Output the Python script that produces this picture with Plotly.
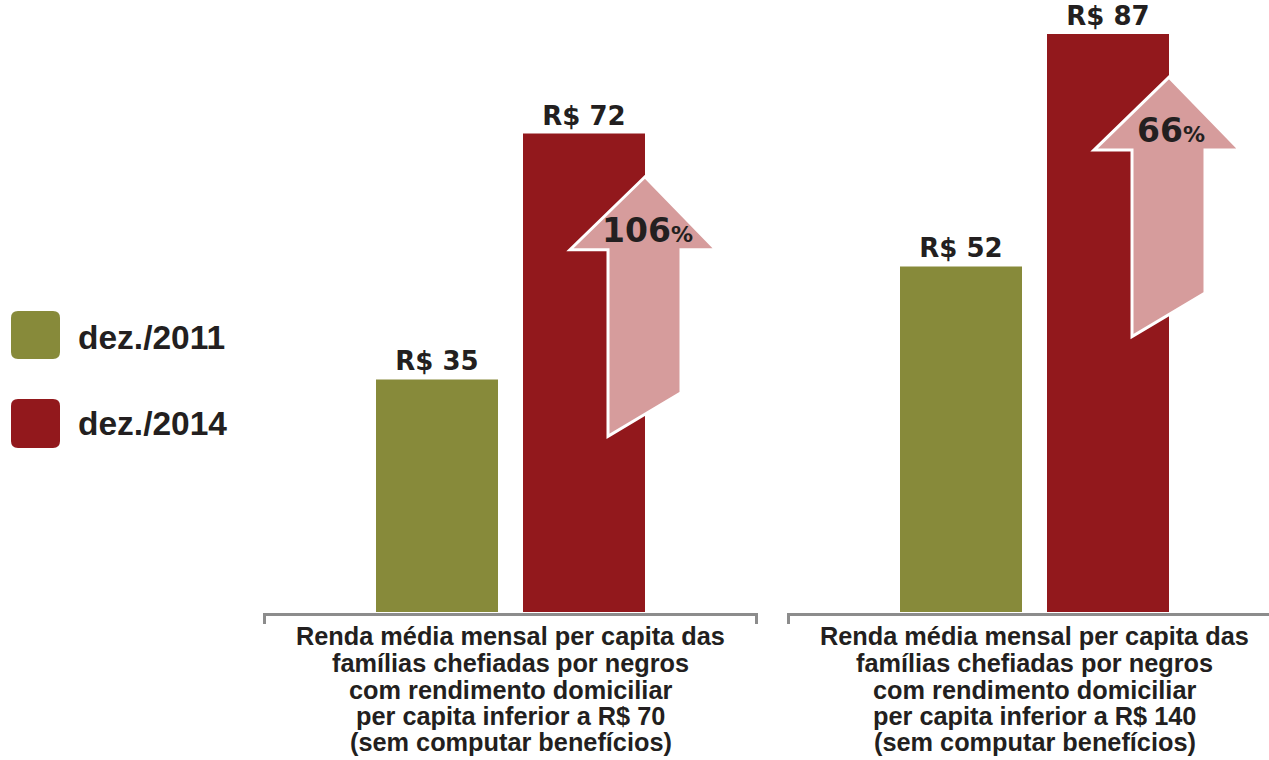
import plotly.graph_objects as go

# ---------------- data ----------------
groups = [
    ["Renda média mensal per capita das", "famílias chefiadas por negros",
     "com rendimento domiciliar", "per capita inferior a R$ 70", "(sem computar benefícios)"],
    ["Renda média mensal per capita das", "famílias chefiadas por negros",
     "com rendimento domiciliar", "per capita inferior a R$ 140", "(sem computar benefícios)"],
]
series_names = ["dez./2011", "dez./2014"]
values_2011 = [35, 52]
values_2014 = [72, 87]
growth_pct = ["106", "66"]

# ---------------- styling / geometry ----------------
W, H = 1269, 760
GREEN = "#878A3A"
RED = "#92181C"
PINK = "#D69C9C"
TXT = "#231F20"
GREY = "#8C8C8C"

BASE_PX = 612.0          # pixel row of value 0
K = 6.645                # pixels per unit (y)
CX0 = 510.5              # pixel of group 0 centre
SX = 524.0               # pixels per x unit (group spacing)

x_range = [-CX0 / SX, (W - CX0) / SX]
y_range = [-(H - BASE_PX) / K, BASE_PX / K]

bar_w = 122 / SX
off_green = -134.5 / SX
off_red = 12.5 / SX

xs = list(range(len(groups)))


def py2paper(py):
    return 1 - py / H


def px2paper(px):
    return px / W


fig = go.Figure()
fig.add_trace(go.Bar(
    x=xs, y=values_2011, name=series_names[0], width=bar_w, offset=off_green,
    marker=dict(color=GREEN, line=dict(width=0)),
    texttemplate="R$ %{y}", textposition="outside", cliponaxis=False,
    textfont=dict(family="DejaVu Sans", size=26, color=TXT, weight="bold"),
    hoverinfo="skip",
))
fig.add_trace(go.Bar(
    x=xs, y=values_2014, name=series_names[1], width=bar_w, offset=off_red,
    marker=dict(color=RED, line=dict(width=0)),
    texttemplate="R$ %{y}", textposition="outside", cliponaxis=False,
    textfont=dict(family="DejaVu Sans", size=26, color=TXT, weight="bold"),
    hoverinfo="skip",
))

shapes = []
annotations = []

# growth arrows anchored at the right edge of the 2014 bars
for i, (v, pct) in enumerate(zip(values_2014, growth_pct)):
    xr = i + off_red + bar_w
    tip = v - 6.5
    hy = tip - 73 / K
    pts = [
        (xr, tip),
        (xr + 71 / SX, hy),
        (xr + 36 / SX, hy),
        (xr + 36 / SX, tip - 216 / K),
        (xr - 37 / SX, tip - 259.5 / K),
        (xr - 37 / SX, hy),
        (xr - 75 / SX, hy),
    ]
    path = "M " + " L ".join(f"{a:.5f},{b:.4f}" for a, b in pts) + " Z"
    shapes.append(dict(type="path", xref="x", yref="y", path=path,
                       fillcolor=PINK, line=dict(color="white", width=3), layer="above"))
    annotations.append(dict(
        x=xr + 2 / SX, y=tip - 53.5 / K, xref="x", yref="y",
        text=f"{pct}<span style='font-size:22px'>%</span>", showarrow=False,
        xanchor="center", yanchor="middle",
        font=dict(family="DejaVu Sans", size=33, color=TXT, weight="bold"),
    ))

# bracket under each group + category labels
half = 246 / SX
line_baselines = [645, 672, 698.5, 725, 751]
for i, lines in enumerate(groups):
    yt = py2paper(614.5)
    yb = py2paper(624)
    xl, xrr = i - half, i + half
    shapes.append(dict(type="path", xref="x", yref="paper",
                       path=f"M {xl},{yb} L {xl},{yt} L {xrr},{yt} L {xrr},{yb}",
                       line=dict(color=GREY, width=3), layer="below"))
    for txt, bl in zip(lines, line_baselines):
        annotations.append(dict(
            x=i, y=py2paper(bl - 8.6), xref="x", yref="paper", text=txt,
            showarrow=False, xanchor="center", yanchor="middle",
            font=dict(family="Liberation Sans", size=25.3, color=TXT, weight="bold"),
        ))


# custom legend (rounded squares)
def rounded_rect(x0, y0, x1, y1, r):
    X = px2paper
    Y = py2paper
    return (f"M {X(x0 + r)},{Y(y0)} L {X(x1 - r)},{Y(y0)} Q {X(x1)},{Y(y0)} {X(x1)},{Y(y0 + r)} "
            f"L {X(x1)},{Y(y1 - r)} Q {X(x1)},{Y(y1)} {X(x1 - r)},{Y(y1)} "
            f"L {X(x0 + r)},{Y(y1)} Q {X(x0)},{Y(y1)} {X(x0)},{Y(y1 - r)} "
            f"L {X(x0)},{Y(y0 + r)} Q {X(x0)},{Y(y0)} {X(x0 + r)},{Y(y0)} Z")


legend_rows = [(311, 359, 337), (399, 448, 423)]
for name, col, (t, b, cy) in zip(series_names, [GREEN, RED], legend_rows):
    shapes.append(dict(type="path", xref="paper", yref="paper",
                       path=rounded_rect(11, t, 60, b, 7), fillcolor=col,
                       line=dict(width=0)))
    annotations.append(dict(
        x=px2paper(76), y=py2paper(cy), xref="paper", yref="paper", text=name,
        showarrow=False, xanchor="left", yanchor="middle",
        font=dict(family="Liberation Sans", size=33.5, color=TXT, weight="bold"),
    ))

fig.update_layout(
    width=W, height=H,
    margin=dict(l=0, r=0, t=0, b=0, pad=0),
    paper_bgcolor="white", plot_bgcolor="white",
    showlegend=False,
    barmode="overlay",
    xaxis=dict(range=x_range, visible=False, fixedrange=True),
    yaxis=dict(range=y_range, visible=False, fixedrange=True),
    shapes=shapes, annotations=annotations,
)

fig.write_html(
    "out.html",
    config={"displayModeBar": False},
    post_script="document.body.style.margin='0';document.body.style.overflow='hidden';",
)
